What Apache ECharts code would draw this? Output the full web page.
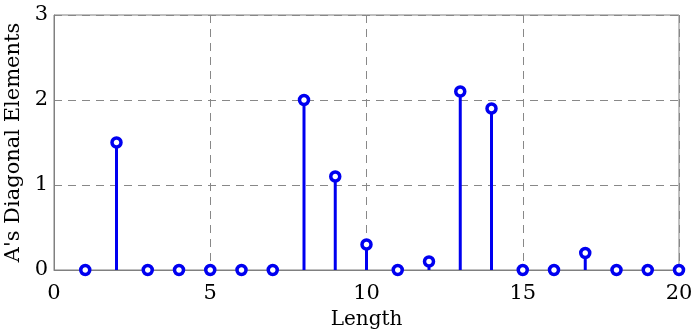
<!DOCTYPE html>
<html><head><meta charset="utf-8">
<script src="https://cdn.jsdelivr.net/npm/echarts@6/dist/echarts.min.js"></script>
<style>html,body{margin:0;padding:0;background:#fff}#c{width:694px;height:335px}</style>
</head><body><div id="c"></div>
<script>
const xValues = [1,2,3,4,5,6,7,8,9,10,11,12,13,14,15,16,17,18,19,20];
const diagValues = [0,1.5,0,0,0,0,0,2.0,1.1,0.3,0,0.1,2.1,1.9,0,0,0.2,0,0,0];
const xTicks = [0,5,10,15,20];
const yTicks = [0,1,2,3];

const pts = xValues.map((x,i)=>[x, diagValues[i]]);
const font = 'DejaVu Serif';
const blue = '#0000f0';
const chart = echarts.init(document.getElementById('c'));
chart.setOption({
  animation:false,
  grid:{left:54,right:15,top:15,bottom:65,show:true,borderColor:'#808080',borderWidth:1,outerBoundsMode:'none',containLabel:false},
  xAxis:{type:'value',min:xTicks[0],max:xTicks[xTicks.length-1],interval:5,
    name:'Length',nameLocation:'middle',nameGap:40,
    nameTextStyle:{fontFamily:font,fontSize:20,color:'#000'},
    axisLine:{lineStyle:{color:'#808080'}},axisTick:{show:false},
    axisLabel:{fontFamily:font,fontSize:21,color:'#000',margin:13},
    splitLine:{show:true,lineStyle:{color:'#888',type:[8,6],width:1}}},
  yAxis:{type:'value',min:yTicks[0],max:yTicks[yTicks.length-1],interval:1,
    name:"A's Diagonal Elements",nameLocation:'middle',nameGap:30,
    nameTextStyle:{fontFamily:font,fontSize:21,color:'#000'},
    axisLine:{show:true,lineStyle:{color:'#808080'}},axisTick:{show:false},
    axisLabel:{fontFamily:font,fontSize:21,color:'#000',margin:6},
    splitLine:{show:true,lineStyle:{color:'#888',type:[8,6],width:1}}},
  series:[
    {type:'custom',data:pts,z:3,renderItem:(params,api)=>{
      const p0=api.coord([api.value(0),0]);const p1=api.coord([api.value(0),api.value(1)]);
      return {type:'line',shape:{x1:p0[0],y1:p0[1],x2:p1[0],y2:p1[1]},style:{stroke:blue,lineWidth:3}};
    }},
    {type:'scatter',data:pts,z:4,symbol:'circle',symbolSize:9,
      itemStyle:{color:'#fff',borderColor:blue,borderWidth:3.5,opacity:1}}
  ]
});
</script></body></html>
